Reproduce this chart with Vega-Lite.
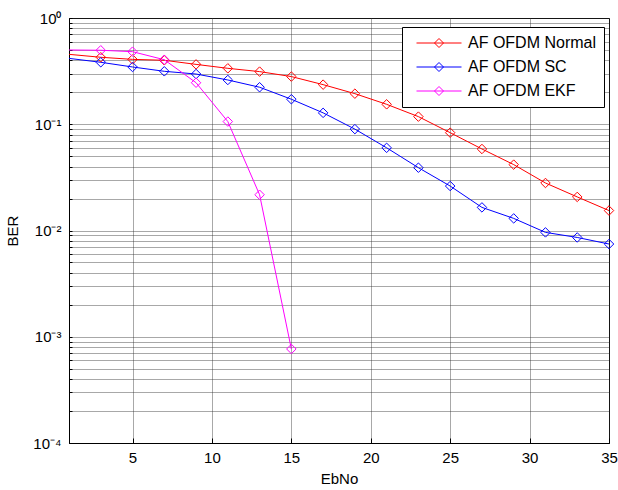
{
  "$schema": "https://vega.github.io/schema/vega-lite/v6.json",
  "width": 540,
  "height": 425,
  "autosize": {"type": "none"},
  "padding": {"left": 69, "top": 18, "right": 9, "bottom": 47},
  "background": "white",
  "config": {
    "font": "Liberation Sans",
    "view": {"stroke": "black", "strokeWidth": 1},
    "axis": {
      "labelFont": "Liberation Sans",
      "titleFont": "Liberation Sans",
      "labelFontSize": 15,
      "titleFontSize": 15,
      "titleFontWeight": "normal",
      "labelColor": "black",
      "titleColor": "black",
      "domainColor": "black",
      "tickColor": "black",
      "gridColor": "#333333",
      "gridDash": [1, 1],
      "gridOpacity": 0.85,
      "gridWidth": 1
    }
  },
  "data": {
    "values": [
      {"EbNo": 1, "BER": 0.455, "series": "AF OFDM Normal"},
      {"EbNo": 3, "BER": 0.427, "series": "AF OFDM Normal"},
      {"EbNo": 5, "BER": 0.408, "series": "AF OFDM Normal"},
      {"EbNo": 7, "BER": 0.400, "series": "AF OFDM Normal"},
      {"EbNo": 9, "BER": 0.366, "series": "AF OFDM Normal"},
      {"EbNo": 11, "BER": 0.336, "series": "AF OFDM Normal"},
      {"EbNo": 13, "BER": 0.313, "series": "AF OFDM Normal"},
      {"EbNo": 15, "BER": 0.281, "series": "AF OFDM Normal"},
      {"EbNo": 17, "BER": 0.236, "series": "AF OFDM Normal"},
      {"EbNo": 19, "BER": 0.194, "series": "AF OFDM Normal"},
      {"EbNo": 21, "BER": 0.154, "series": "AF OFDM Normal"},
      {"EbNo": 23, "BER": 0.118, "series": "AF OFDM Normal"},
      {"EbNo": 25, "BER": 0.0833, "series": "AF OFDM Normal"},
      {"EbNo": 27, "BER": 0.0585, "series": "AF OFDM Normal"},
      {"EbNo": 29, "BER": 0.0417, "series": "AF OFDM Normal"},
      {"EbNo": 31, "BER": 0.028, "series": "AF OFDM Normal"},
      {"EbNo": 33, "BER": 0.0207, "series": "AF OFDM Normal"},
      {"EbNo": 35, "BER": 0.0154, "series": "AF OFDM Normal"},
      {"EbNo": 1, "BER": 0.417, "series": "AF OFDM SC"},
      {"EbNo": 3, "BER": 0.383, "series": "AF OFDM SC"},
      {"EbNo": 5, "BER": 0.346, "series": "AF OFDM SC"},
      {"EbNo": 7, "BER": 0.315, "series": "AF OFDM SC"},
      {"EbNo": 9, "BER": 0.297, "series": "AF OFDM SC"},
      {"EbNo": 11, "BER": 0.261, "series": "AF OFDM SC"},
      {"EbNo": 13, "BER": 0.223, "series": "AF OFDM SC"},
      {"EbNo": 15, "BER": 0.172, "series": "AF OFDM SC"},
      {"EbNo": 17, "BER": 0.128, "series": "AF OFDM SC"},
      {"EbNo": 19, "BER": 0.090, "series": "AF OFDM SC"},
      {"EbNo": 21, "BER": 0.060, "series": "AF OFDM SC"},
      {"EbNo": 23, "BER": 0.039, "series": "AF OFDM SC"},
      {"EbNo": 25, "BER": 0.0262, "series": "AF OFDM SC"},
      {"EbNo": 27, "BER": 0.0165, "series": "AF OFDM SC"},
      {"EbNo": 29, "BER": 0.0130, "series": "AF OFDM SC"},
      {"EbNo": 31, "BER": 0.0096, "series": "AF OFDM SC"},
      {"EbNo": 33, "BER": 0.0086, "series": "AF OFDM SC"},
      {"EbNo": 35, "BER": 0.00746, "series": "AF OFDM SC"},
      {"EbNo": 1, "BER": 0.50, "series": "AF OFDM EKF"},
      {"EbNo": 3, "BER": 0.497, "series": "AF OFDM EKF"},
      {"EbNo": 5, "BER": 0.482, "series": "AF OFDM EKF"},
      {"EbNo": 7, "BER": 0.405, "series": "AF OFDM EKF"},
      {"EbNo": 9, "BER": 0.246, "series": "AF OFDM EKF"},
      {"EbNo": 11, "BER": 0.106, "series": "AF OFDM EKF"},
      {"EbNo": 13, "BER": 0.0217, "series": "AF OFDM EKF"},
      {"EbNo": 15, "BER": 0.000767, "series": "AF OFDM EKF"}
    ]
  },
  "encoding": {
    "x": {
      "field": "EbNo",
      "type": "quantitative",
      "scale": {"domain": [1, 35], "nice": false, "zero": false},
      "axis": {
        "values": [5, 10, 15, 20, 25, 30, 35],
        "title": "EbNo",
        "titlePadding": 6,
        "tickSize": -5,
        "labelPadding": 12,
        "labelFlush": false
      }
    },
    "y": {
      "field": "BER",
      "type": "quantitative",
      "scale": {"type": "log", "domain": [0.0001, 1], "nice": false},
      "axis": {
        "title": "BER",
        "titlePadding": 12,
        "values": [0.0001, 0.0002, 0.0003, 0.0004, 0.0005, 0.0006, 0.0007, 0.0008, 0.0009, 0.001, 0.002, 0.003, 0.004, 0.005, 0.006, 0.007, 0.008, 0.009, 0.01, 0.02, 0.03, 0.04, 0.05, 0.06, 0.07, 0.08, 0.09, 0.1, 0.2, 0.3, 0.4, 0.5, 0.6, 0.7, 0.8, 0.9, 1],
        "labelExpr": "datum.value == 1 ? '10⁰' : datum.value == 0.1 ? '10⁻¹' : datum.value == 0.01 ? '10⁻²' : datum.value == 0.001 ? '10⁻³' : datum.value == 0.0001 ? '10⁻⁴' : ''",
        "labelOverlap": false,
        "labelFlush": false,
        "tickSize": -3,
        "labelPadding": 11
      }
    },
    "color": {
      "field": "series",
      "type": "nominal",
      "scale": {
        "domain": ["AF OFDM Normal", "AF OFDM SC", "AF OFDM EKF"],
        "range": ["#FF0000", "#0000FF", "#FF00FF"]
      },
      "legend": {
        "title": null,
        "orient": "none",
        "legendX": 333,
        "legendY": 9,
        "fillColor": "white",
        "strokeColor": "black",
        "padding": 8,
        "symbolType": "M-5,0H5M0,-1L1,0L0,1L-1,0Z",
        "symbolSize": 81,
        "symbolStrokeWidth": 1,
        "symbolFillColor": "transparent",
        "symbolOffset": 21,
        "labelOffset": 21,
        "labelFontSize": 16,
        "labelFont": "Liberation Sans",
        "labelColor": "black",
        "rowPadding": 8
      }
    }
  },
  "layer": [
    {"mark": {"type": "line", "strokeWidth": 1, "clip": true}},
    {
      "transform": [{"filter": "datum.EbNo >= 3"}],
      "mark": {"type": "point", "shape": "diamond", "filled": false, "size": 90, "strokeWidth": 1, "opacity": 1}
    }
  ]
}
